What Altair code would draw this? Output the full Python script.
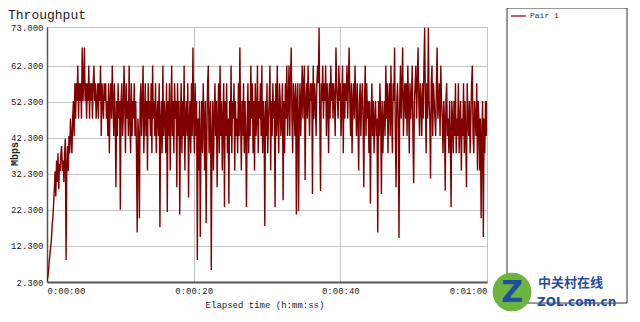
import altair as alt
import pandas as pd
import numpy as np

# Throughput samples (Mbps), one every 0.1 s (one row per second)
mbps = [
    2.5, 3.5, 5.0, 8.0, 10.0, 12.0, 14.0, 18.0, 20.0, 24.0,
    28.0, 33.0, 26.0, 36.0, 30.0, 38.0, 28.0, 35.0, 33.0, 38.0,
    40.0, 33.0, 36.0, 30.0, 38.0, 42.0, 8.4, 35.0, 40.0, 33.0,
    42.8, 38.0, 47.6, 42.8, 38.0, 47.6, 52.5, 42.8, 57.4, 47.6,
    57.4, 52.5, 62.3, 47.6, 57.4, 52.5, 57.4, 47.6, 67.3, 52.5,
    57.4, 67.3, 52.5, 57.4, 47.6, 57.4, 52.5, 62.3, 47.6, 57.4,
    52.5, 57.4, 47.6, 57.4, 62.3, 52.5, 57.4, 47.6, 52.5, 57.4,
    47.6, 57.4, 52.5, 62.3, 42.8, 57.4, 52.5, 47.6, 57.4, 52.5,
    57.4, 47.6, 52.5, 42.8, 57.4, 38.0, 52.5, 57.4, 47.6, 62.3,
    52.5, 42.8, 57.4, 47.6, 28.6, 52.5, 42.8, 57.4, 47.6, 52.5,
    22.3, 52.5, 57.4, 42.8, 47.6, 62.3, 52.5, 38.0, 57.4, 47.6,
    52.5, 42.8, 62.3, 47.6, 38.0, 57.4, 42.8, 52.5, 47.6, 57.4,
    42.8, 52.5, 38.0, 16.0, 47.6, 42.8, 20.0, 52.5, 57.4, 42.8,
    52.5, 62.3, 38.0, 47.6, 57.4, 42.8, 52.5, 33.2, 57.4, 47.6,
    52.5, 42.8, 57.4, 38.0, 62.3, 47.6, 52.5, 42.8, 57.4, 38.0,
    47.6, 52.5, 42.8, 57.4, 17.5, 47.6, 52.5, 38.0, 62.3, 42.8,
    52.5, 47.6, 38.0, 57.4, 21.7, 52.5, 42.8, 57.4, 33.2, 47.6,
    62.3, 42.8, 52.5, 38.0, 57.4, 47.6, 52.5, 28.6, 57.4, 42.8,
    52.5, 21.0, 47.6, 57.4, 38.0, 52.5, 42.8, 62.3, 33.2, 47.6,
    52.5, 42.8, 57.4, 25.7, 47.6, 52.5, 38.0, 57.4, 42.8, 67.3,
    47.6, 38.0, 57.4, 42.8, 52.5, 8.4, 47.6, 33.2, 52.5, 14.8,
    42.8, 52.5, 38.0, 57.4, 47.6, 33.2, 52.5, 18.6, 42.8, 57.4,
    62.3, 38.0, 47.6, 52.5, 5.6, 42.8, 52.5, 33.2, 47.6, 57.4,
    42.8, 52.5, 28.6, 47.6, 57.4, 38.0, 62.3, 42.8, 52.5, 33.2,
    47.6, 57.4, 23.0, 52.5, 42.8, 57.4, 38.0, 47.6, 24.0, 52.5,
    42.8, 62.3, 38.0, 52.5, 47.6, 57.4, 33.2, 52.5, 42.8, 47.6,
    38.0, 57.4, 42.8, 67.3, 47.6, 33.2, 52.5, 42.8, 57.4, 38.0,
    52.5, 42.8, 23.0, 47.6, 57.4, 38.0, 52.5, 42.8, 62.3, 47.6,
    57.4, 38.0, 52.5, 33.2, 57.4, 42.8, 47.6, 62.3, 38.0, 52.5,
    47.6, 57.4, 42.8, 62.3, 38.0, 52.5, 47.6, 17.8, 52.5, 42.8,
    57.4, 38.0, 47.6, 52.5, 62.3, 33.2, 52.5, 42.8, 57.4, 47.6,
    52.5, 23.0, 57.4, 42.8, 62.3, 47.6, 38.0, 57.4, 52.5, 42.8,
    47.6, 57.4, 25.0, 52.5, 38.0, 57.4, 47.6, 62.3, 42.8, 52.5,
    62.3, 42.8, 57.4, 67.3, 47.6, 38.0, 57.4, 52.5, 42.8, 57.4,
    21.0, 52.5, 57.4, 22.0, 47.6, 57.4, 42.8, 52.5, 62.3, 47.6,
    57.4, 62.3, 30.6, 52.5, 57.4, 47.6, 62.3, 52.5, 42.8, 57.4,
    52.5, 57.4, 26.7, 62.3, 47.6, 57.4, 52.5, 42.8, 57.4, 62.3,
    57.4, 72.8, 47.6, 27.5, 57.4, 52.5, 62.3, 47.6, 57.4, 52.5,
    62.3, 42.8, 57.4, 52.5, 38.0, 57.4, 47.6, 62.3, 52.5, 57.4,
    47.6, 57.4, 52.5, 42.8, 67.3, 57.4, 52.5, 47.6, 62.3, 52.5,
    57.4, 42.8, 52.5, 62.3, 38.0, 57.4, 47.6, 57.4, 52.5, 62.3,
    47.6, 57.4, 67.3, 52.5, 42.8, 57.4, 38.0, 52.5, 57.4, 47.6,
    62.3, 52.5, 42.8, 57.4, 47.6, 33.2, 52.5, 57.4, 42.8, 52.5,
    57.4, 47.6, 28.6, 52.5, 62.3, 42.8, 57.4, 47.6, 52.5, 38.0,
    52.5, 24.0, 47.6, 57.4, 42.8, 52.5, 38.0, 47.6, 52.5, 42.8,
    47.6, 16.0, 52.5, 42.8, 57.4, 47.6, 26.7, 52.5, 38.0, 47.6,
    52.5, 42.8, 62.3, 47.6, 57.4, 38.0, 52.5, 57.4, 42.8, 62.3,
    47.6, 38.0, 57.4, 52.5, 67.3, 42.8, 28.6, 52.5, 57.4, 47.6,
    14.5, 52.5, 62.3, 47.6, 57.4, 67.3, 42.8, 52.5, 57.4, 47.6,
    57.4, 42.8, 62.3, 52.5, 38.0, 57.4, 47.6, 52.5, 62.3, 42.8,
    29.7, 52.5, 57.4, 62.3, 47.6, 57.4, 67.3, 52.5, 42.8, 57.4,
    52.5, 42.8, 57.4, 47.6, 62.3, 72.8, 52.5, 38.0, 57.4, 47.6,
    72.8, 52.5, 47.6, 31.0, 57.4, 62.3, 42.8, 57.4, 52.5, 47.6,
    42.8, 57.4, 67.3, 47.6, 52.5, 57.4, 42.8, 62.3, 52.5, 47.6,
    38.0, 52.5, 47.6, 27.7, 52.5, 57.4, 42.8, 47.6, 38.0, 52.5,
    42.8, 23.0, 52.5, 47.6, 38.0, 52.5, 42.8, 57.4, 38.0, 47.6,
    42.8, 57.4, 38.0, 47.6, 52.5, 33.2, 47.6, 42.8, 57.4, 38.0,
    52.5, 42.8, 28.6, 57.4, 47.6, 42.8, 52.5, 38.0, 47.6, 57.4,
    62.3, 42.8, 38.0, 52.5, 47.6, 42.8, 57.4, 33.2, 52.5, 47.6,
    33.2, 47.6, 20.0, 42.8, 52.5, 14.8, 47.6, 38.0, 52.5, 42.8,
    52.5,
]
sample_step = 0.1  # seconds between samples
y_ticks = [2.3, 12.3, 22.3, 32.3, 42.3, 52.3, 62.3, 73.0]
x_ticks = [0, 20, 40, 60]
series_name = "Pair 1"

df = pd.DataFrame({"t": np.arange(len(mbps)) * sample_step, "v": mbps})

W, H = 440, 255
RED = "#800000"
MONO = "Liberation Mono"

line = alt.Chart(df).mark_line(color=RED, strokeWidth=1.4, clip=True).encode(
    x=alt.X("t:Q", scale=alt.Scale(domain=[0, 60], nice=False, zero=False),
            axis=alt.Axis(values=x_ticks, title=None, grid=True, gridColor="#c4c4c4",
                          tickSize=0, labelPadding=4, labelFont=MONO, labelFontSize=9,
                          labelColor="#222", domainColor="#555", domainWidth=2,
                          labelExpr="datum.value == 60 ? '0:01:00' : '0:00:' + (datum.value < 10 ? '0' + datum.value : datum.value)")),
    y=alt.Y("v:Q", scale=alt.Scale(domain=[2.3, 73], nice=False, zero=False),
            axis=alt.Axis(values=y_ticks, title=None, format=".3f", grid=True,
                          gridColor="#c4c4c4", tickSize=0, labelPadding=4,
                          labelFont=MONO, labelFontSize=9, labelColor="#222",
                          domainColor="#555", domainWidth=1.5)),
)

one = pd.DataFrame({"a": [0]})

def txt(text, x, y, **kw):
    return alt.Chart(one).mark_text(text=text, **kw).encode(x=alt.value(x), y=alt.value(y))

title = txt("Throughput", -39, -12, font=MONO, fontSize=13, align="left", baseline="middle", color="#222")
ytitle = txt("Mbps", -32, 127, font=MONO, fontSize=10, fontWeight="bold", angle=270,
             align="center", baseline="middle", color="#222")
xtitle = txt("Elapsed time (h:mm:ss)", 218, 278, font=MONO, fontSize=9, align="center",
             baseline="middle", color="#222")

legend_box = alt.Chart(one).mark_rect(fill="white", stroke="#333", strokeWidth=1).encode(
    x=alt.value(460), x2=alt.value(580), y=alt.value(-19), y2=alt.value(276))
legend_line = alt.Chart(one).mark_rule(color=RED, strokeWidth=1.2).encode(
    x=alt.value(464), x2=alt.value(479), y=alt.value(-11))
legend_text = txt(series_name, 483, -11, font=MONO, fontSize=8, align="left", baseline="middle", color="#333")

logo_circle = alt.Chart(one).mark_point(shape="circle", filled=True, color="#6db33f", opacity=1).encode(
    x=alt.value(465), y=alt.value(265), size=alt.value(1500))
logo_z = txt("Z", 465, 266, font="DejaVu Sans", fontSize=30, fontWeight="bold", align="center",
             baseline="middle", color="#1f4f9f")
logo_cn = txt("中关村在线", 491, 256, font="Noto Sans CJK SC", fontSize=13, fontWeight="bold",
              align="left", baseline="middle", color="#1f4f9f")
logo_en = txt("ZOL.com.cn", 490, 275, font="DejaVu Sans", fontSize=12, fontWeight="bold",
              align="left", baseline="middle", color="#1f4f9f")

chart = alt.layer(
    line, title, ytitle, xtitle, legend_box, legend_line, legend_text,
    logo_circle, logo_z, logo_cn, logo_en
).properties(
    width=W, height=H,
    autosize=alt.AutoSizeParams(type="none"),
    padding={"left": 39, "top": 19, "right": 141, "bottom": 32},
    background="white",
).configure_view(stroke="#666", strokeWidth=1)

chart.save("out.html", embed_options={"renderer": "svg", "actions": False})
